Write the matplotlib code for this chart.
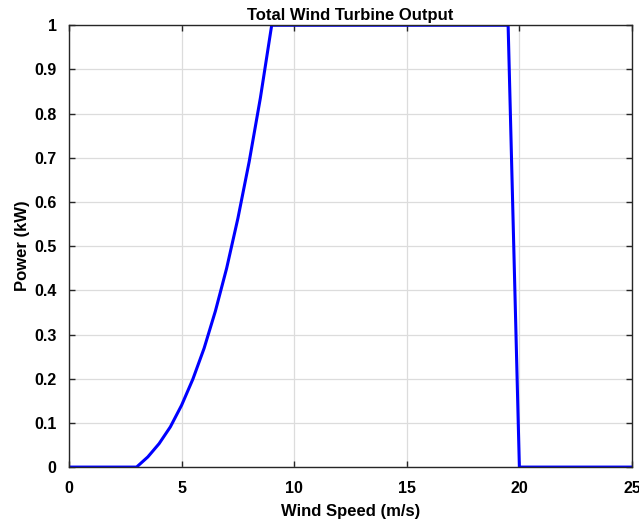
import matplotlib
matplotlib.use('Agg')
import matplotlib.pyplot as plt

# wind speed (m/s) vs. turbine output (kW)
wind_speed = [0, 3, 3.5, 4, 4.5, 5, 5.5, 6, 6.5, 7, 7.5, 8, 8.5, 9, 19.5, 20, 25]
power_kw = [0, 0, 0.023, 0.053, 0.091, 0.140, 0.199, 0.269, 0.353, 0.450,
            0.563, 0.691, 0.836, 1.0, 1.0, 0, 0]

x_ticks = [0, 5, 10, 15, 20, 25]
y_ticks = [0, 0.1, 0.2, 0.3, 0.4, 0.5, 0.6, 0.7, 0.8, 0.9, 1]
y_labels = ['0', '0.1', '0.2', '0.3', '0.4', '0.5', '0.6', '0.7', '0.8', '0.9', '1']

plt.rcParams['font.family'] = ['Liberation Sans', 'DejaVu Sans']
plt.rcParams['font.weight'] = 'bold'

fig = plt.figure(figsize=(6.39, 5.26), dpi=100)
ax = fig.add_axes([0.108, 0.112, 0.881, 0.840])

ax.plot(wind_speed, power_kw, color='#0000ff', linewidth=2.2)

ax.set_xlim(0, 25)
ax.set_ylim(0, 1)
ax.set_xticks(x_ticks)
ax.set_yticks(y_ticks)
ax.set_yticklabels(y_labels)
ax.tick_params(direction='in', top=True, right=True, labelsize=11.5,
               length=4, width=1, color='#262626', labelcolor='black')
ax.tick_params(axis='x', pad=10)
ax.tick_params(axis='y', pad=9)
ax.grid(True, color='#dcdcdc', linewidth=0.9)
ax.set_axisbelow(True)
for s in ax.spines.values():
    s.set_color('#262626')
    s.set_linewidth(1.0)

ax.set_xlabel('Wind Speed (m/s)', fontsize=12, fontweight='heavy', labelpad=6)
ax.set_ylabel('Power (kW)', fontsize=12, fontweight='heavy', labelpad=3)
ax.set_title('Total Wind Turbine Output', fontsize=12, fontweight='heavy', pad=4)

fig.savefig('out.png', dpi=100)
